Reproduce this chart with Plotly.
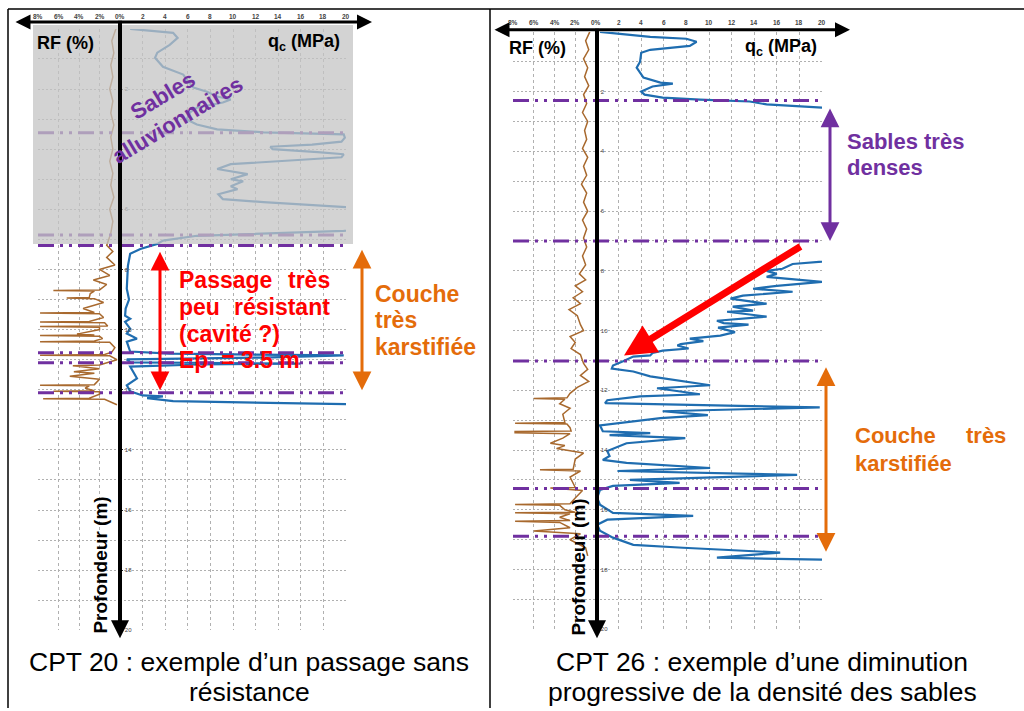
import plotly.graph_objects as go

W, H = 1024, 711
def px(x): return x / W
def py(y): return 1 - y / H

# ---------------- DATA ----------------
depth_ticks = [2, 4, 6, 8, 10, 12, 14, 16, 18, 20]
rf_ticks = [8, 6, 4, 2, 0]
rf_ticktext = ["8%", "6%", "4%", "2%", "0%"]
qc_ticks = [2, 4, 6, 8, 10, 12, 14, 16, 18, 20]

# CPT 20 : (depth m, qc MPa)
cpt20_qc = [(0.0,0.9),(0.13,4.7),(0.3,5.1),(0.53,4.4),(0.79,3.3),(0.96,3.1),(1.26,3.8),(1.52,5.6),
            (1.69,5.9),(1.95,6.5),(2.09,7.7),(2.25,8.6),(2.35,9.8),(2.45,9.1),(2.62,6.8),(2.78,6.2),
            (3.01,5.9),(3.18,6.8),(3.34,8.6),(3.44,12.7),(3.51,19.8),(3.62,19.9),(3.75,19.6),(3.85,17.0),
            (3.92,13.3),(4.0,13.5),(4.1,17.5),(4.17,19.8),(4.27,19.6),(4.35,16.0),(4.5,9.8),(4.66,8.6),
            (4.83,11.3),(5.0,9.8),(5.07,10.9),(5.23,9.8),(5.33,10.4),(5.5,8.7),(5.66,9.1),(5.76,12.7),
            (5.9,19.5),(6.0,23),(6.6,23),(6.72,19.8),(6.88,6.8),(7.04,3.8),(7.15,3.3),(7.32,1.8),
            (7.48,0.9),(7.88,0.7),(8.64,0.6),(9.0,0.8),(9.3,0.5),(9.54,0.45),(9.64,0.9),(9.74,0.45),
            (9.97,0.9),(10.13,0.6),(10.3,1.5),(10.4,0.6),(10.73,0.9),(10.8,4.4),(10.86,19.8),(10.93,12.7),
            (10.99,0.6),(11.09,0.9),(11.13,16.0),(11.16,7.0),(11.23,0.9),(11.62,1.5),(11.85,0.6),
            (12.05,0.9),(12.19,2.0),(12.22,3.8),(12.28,2.4),(12.38,4.7),(12.48,20.0)]

# CPT 20 : (depth m, RF %)
cpt20_rf = [(0.0,0.4),(0.4,0.8),(0.8,0.6),(1.2,0.9),(1.6,0.7),(2.0,1.0),(2.4,0.7),(2.8,0.9),
            (3.2,0.6),(3.6,0.9),(4.0,0.7),(4.4,1.0),(4.8,0.7),(5.2,0.9),(5.6,0.6),(6.0,1.0),
            (6.4,0.7),(6.8,0.9),(7.0,1.1),(7.2,1.3),(7.4,0.7),(7.6,1.3),(7.85,0.5),(8.0,2.0),
            (8.2,1.0),(8.35,2.6),(8.5,1.3),(8.68,2.0),(8.7,6.5),(8.72,2.5),(8.8,2.9),(8.93,3.0),
            (8.95,5.2),(8.97,2.5),(9.1,1.6),(9.3,3.6),(9.43,2.5),(9.45,7.8),(9.47,2.0),(9.6,1.6),
            (9.73,3.0),(9.75,7.8),(9.77,1.5),(9.88,1.2),(9.9,7.8),(9.92,2.0),(10.0,2.0),(10.15,4.2),
            (10.18,2.5),(10.2,7.8),(10.22,2.0),(10.3,1.7),(10.38,2.5),(10.4,7.8),(10.42,1.0),
            (10.6,0.5),(10.75,0.8),(10.83,1.5),(10.85,7.8),(10.87,1.0),(11.0,0.3),(11.18,2.0),
            (11.2,4.6),(11.3,2.0),(11.4,4.5),(11.45,2.5),(11.55,4.9),(11.65,2.0),(11.83,2.5),
            (11.85,7.8),(11.87,3.0),(11.95,3.4),(12.03,2.5),(12.05,6.5),(12.07,2.0),(12.15,2.0),
            (12.28,3.0),(12.3,7.5),(12.32,1.5),(12.4,1.0),(12.5,0.3)]

# CPT 26 : (depth m, qc MPa)
cpt26_qc = [(0.0,0.35),(0.17,4.8),(0.23,8.0),(0.33,8.9),(0.47,8.3),(0.6,4.8),(0.7,4.0),(1.0,3.9),
            (1.2,3.6),(1.53,4.2),(1.7,5.7),(1.73,6.8),(1.83,5.0),(2.0,4.0),(2.1,4.3),(2.2,5.9),
            (2.27,9.2),(2.33,13.6),(2.43,15.1),(2.53,20.0),(2.6,23),(7.6,23),(7.7,20.0),(7.77,17.4),
            (7.93,16.5),(8.0,15.1),(8.1,16.0),(8.2,15.1),(8.37,20.0),(8.5,16.0),(8.6,13.9),(8.7,17.4),
            (8.83,13.0),(8.93,11.9),(9.1,15.1),(9.2,12.1),(9.33,13.9),(9.37,11.6),(9.53,15.1),
            (9.67,10.7),(9.75,11.3),(9.8,13.5),(9.9,10.8),(10.05,12.3),(10.17,11.0),(10.27,8.3),
            (10.35,9.5),(10.45,7.5),(10.5,7.2),(10.6,8.2),(10.67,5.9),(10.75,5.0),(10.83,4.8),
            (10.87,3.3),(11.03,2.4),(11.17,1.5),(11.27,1.4),(11.37,3.3),(11.53,4.8),(11.83,10.1),
            (11.93,5.4),(12.13,9.2),(12.2,3.9),(12.33,1.0),(12.43,0.8),(12.57,19.8),(12.7,5.9),
            (12.83,9.9),(12.93,5.7),(13.17,0.35),(13.37,0.6),(13.43,4.8),(13.5,1.2),(13.6,7.9),
            (13.77,2.7),(13.87,2.1),(14.03,1.0),(14.2,1.2),(14.33,0.6),(14.43,2.7),(14.6,10.1),
            (14.7,1.9),(14.83,17.8),(15.0,3.0),(15.1,7.4),(15.2,1.5),(15.33,0.35),(15.6,0.1),
            (15.83,0.35),(16.1,1.5),(16.2,8.6),(16.33,1.0),(16.5,0.1),(16.7,0.35),(16.93,1.5),
            (17.17,3.3),(17.27,7.7),(17.43,16.3),(17.6,10.7),(17.67,20.0)]

# CPT 26 : (depth m, RF %)
cpt26_rf = [(0.0,0.6),(0.3,1.0),(0.6,0.7),(0.9,1.2),(1.2,0.8),(1.5,1.1),(1.8,0.7),(2.1,1.2),
            (2.4,0.9),(2.7,1.3),(3.0,0.8),(3.3,1.1),(3.6,0.9),(3.9,1.3),(4.2,0.8),(4.5,1.2),
            (4.8,0.9),(5.1,1.4),(5.4,0.9),(5.7,1.2),(6.0,0.8),(6.3,1.3),(6.6,0.9),(6.9,1.2),
            (7.2,0.9),(7.5,1.3),(7.8,1.0),(8.1,1.6),(8.3,1.0),(8.5,2.0),(8.7,1.3),(8.9,2.2),
            (9.1,1.5),(9.3,2.6),(9.5,1.8),(9.8,1.5),(10.0,1.2),(10.2,2.5),(10.4,2.0),(10.6,2.4),
            (10.8,1.5),(11.1,1.2),(11.3,0.8),(11.5,1.5),(11.7,0.7),(11.9,1.8),(12.1,2.5),
            (12.25,2.8),(12.27,6.0),(12.3,3.0),(12.45,3.5),(12.6,2.5),(12.8,3.2),(13.08,3.0),
            (13.1,7.8),(13.13,2.8),(13.25,2.5),(13.36,2.4),(13.38,7.8),(13.42,7.8),(13.45,2.5),
            (13.6,3.2),(13.77,4.4),(13.85,3.0),(13.95,3.8),(14.1,1.2),(14.3,2.0),(14.64,2.2),
            (14.66,5.4),(14.7,1.5),(14.9,2.5),(15.25,2.0),(15.27,4.4),(15.35,1.3),(15.6,2.0),
            (15.8,2.5),(15.82,7.8),(15.85,3.5),(16.0,3.0),(16.08,2.0),(16.1,7.8),(16.13,2.5),
            (16.25,3.5),(16.36,2.5),(16.38,7.8),(16.42,3.5),(16.6,2.5),(16.71,6.0),(16.8,1.5),
            (17.0,2.5),(17.27,1.0),(17.54,0.8)]

# layer boundaries (depth, m)
cpt20_layers = [3.45, 6.85, 7.2, 10.77, 11.1, 12.1]
cpt26_layers = [2.3, 7.0, 11.02, 15.29, 16.88]

# ---------------- STYLE ----------------
BLUE = "#1f6db0"
BROWN = "#a8692e"
PURPLE = "#7030a0"
RED = "#ff0000"
ORANGE = "#e46c0a"
GRID = "#b0b0b0"
FONT = "Liberation Sans, Arial, sans-serif"

fig = go.Figure()
def split(p):
    return [a for a, b in p], [b for a, b in p]

d, v = split(cpt20_rf)
fig.add_trace(go.Scatter(x=v, y=d, mode="lines", line=dict(color=BROWN, width=1.5), xaxis="x", yaxis="y"))
d, v = split(cpt20_qc)
fig.add_trace(go.Scatter(x=v, y=d, mode="lines", line=dict(color=BLUE, width=2.2), xaxis="x2", yaxis="y"))
d, v = split(cpt26_rf)
fig.add_trace(go.Scatter(x=v, y=d, mode="lines", line=dict(color=BROWN, width=1.5), xaxis="x3", yaxis="y2"))
d, v = split(cpt26_qc)
fig.add_trace(go.Scatter(x=v, y=d, mode="lines", line=dict(color=BLUE, width=2.2), xaxis="x4", yaxis="y2"))

def xax(dom, rng, vals, anchor):
    return dict(domain=dom, range=rng, anchor=anchor, tickvals=vals, showticklabels=False, ticks="",
                showgrid=True, gridcolor=GRID, griddash="3px,3px", gridwidth=1,
                zeroline=False, showline=False, fixedrange=True)
def yax(dom, anchor):
    return dict(domain=dom, range=[20, 0], anchor=anchor, side="left", ticklabelposition="inside",
                ticklabeloverflow="allow",
                tickvals=depth_ticks, tickfont=dict(size=6, color="#444", family=FONT),
                ticks="inside", ticklen=3, tickcolor="#222",
                showgrid=True, gridcolor=GRID, griddash="2px,2px", gridwidth=1,
                minor=dict(tickvals=[1, 3, 5, 7, 9, 11, 13, 15, 17, 19], showgrid=True,
                           gridcolor=GRID, griddash="2px,2px", gridwidth=1),
                zeroline=False, showline=False, fixedrange=True)

fig.update_layout(
    width=W, height=H, margin=dict(l=0, r=0, t=0, b=0),
    paper_bgcolor="white", plot_bgcolor="white", showlegend=False, hovermode=False,
    xaxis=xax([px(38), px(120)], [8, 0], rf_ticks, "y"),
    xaxis2=xax([px(120), px(346)], [0, 20], qc_ticks, "y"),
    xaxis3=xax([px(513), px(596)], [8, 0], rf_ticks, "y2"),
    xaxis4=xax([px(596), px(822)], [0, 20], qc_ticks, "y2"),
    yaxis=yax([py(633), py(29)], "x2"),
    yaxis2=yax([py(632), py(32)], "x4"),
)

shapes = []
dash = "16px,6px,3px,6px,3px,6px"
for dep in cpt20_layers:
    shapes.append(dict(type="line", xref="paper", yref="y", x0=px(38), x1=px(346), y0=dep, y1=dep,
                       line=dict(color=PURPLE, width=3, dash=dash), layer="above"))
for dep in cpt26_layers:
    shapes.append(dict(type="line", xref="paper", yref="y2", x0=px(513), x1=px(822), y0=dep, y1=dep,
                       line=dict(color=PURPLE, width=3, dash=dash), layer="above"))
# grey overlay of alluvial sands
shapes.append(dict(type="rect", xref="paper", yref="paper", x0=px(33), x1=px(353), y0=py(245), y1=py(25),
                   fillcolor="rgba(196,196,196,0.75)", line=dict(width=0), layer="above"))
# table borders
for (x0, y0, x1, y1) in [(8, 9, 1024, 9), (8, 9, 8, 711), (490, 9, 490, 711)]:
    shapes.append(dict(type="line", xref="paper", yref="paper", x0=px(x0), x1=px(x1), y0=py(y0), y1=py(y1),
                       line=dict(color="black", width=1.5)))
fig.update_layout(shapes=shapes)

ann = []
# top tick labels placed through the axes' own scales
tickfont = dict(size=6.5, color="#444", family=FONT)
for xr, vals, texts, ypix in [("x", rf_ticks, rf_ticktext, 17), ("x2", qc_ticks, [str(t) for t in qc_ticks], 17),
                              ("x3", rf_ticks, rf_ticktext, 23), ("x4", qc_ticks, [str(t) for t in qc_ticks], 23)]:
    for val, t in zip(vals, texts):
        ann.append(dict(xref=xr, yref="paper", x=val, y=py(ypix), text="<b>%s</b>" % t, showarrow=False,
                        xanchor="center", yanchor="middle", font=tickfont))

def arrow(tail, tip, color, width, size, double=False):
    a = dict(xref="paper", yref="paper", x=px(tip[0]), y=py(tip[1]), ax=tail[0] - tip[0], ay=tail[1] - tip[1],
             text="", showarrow=True, arrowhead=2, arrowsize=size, arrowwidth=width, arrowcolor=color)
    if double:
        a.update(arrowside="end+start", startarrowhead=2, startarrowsize=size)
    ann.append(a)

arrow((14, 22), (372, 22), "black", 3, 1.0, True)
arrow((493, 30), (850, 30), "black", 3, 1.0, True)
arrow((120, 22), (120, 641), "black", 4, 0.9)
arrow((597, 30), (597, 641), "black", 4, 0.9)
arrow((160, 252), (160, 392), RED, 3, 1.25, True)
arrow((362, 250), (362, 392), ORANGE, 3, 1.25, True)
arrow((830, 108), (830, 242), PURPLE, 3, 1.25, True)
arrow((826, 368), (826, 554), ORANGE, 3, 1.25, True)
arrow((802, 247), (624, 357), RED, 7, 0.9)

def text(x, y, s, size, color="black", xa="left", bold=True, angle=0, family=FONT, align="left"):
    ann.append(dict(xref="paper", yref="paper", x=px(x), y=py(y), text=("<b>%s</b>" % s) if bold else s,
                    showarrow=False, xanchor=xa, yanchor="middle", textangle=angle, align=align,
                    font=dict(size=size, color=color, family=family)))

text(35, 43, "RF (%)", 18)
text(342, 43, "q<sub>c</sub> (MPa)", 18, xa="right")
text(507, 48, "RF (%)", 18)
text(819, 48, "q<sub>c</sub> (MPa)", 18, xa="right")
text(170, 108, "Sables<br>alluvionnaires", 22, PURPLE, xa="center", angle=-31, align="center")

text(177, 281, "Passage", 23, RED); text(332, 281, "très", 23, RED, xa="right")
text(177, 308, "peu", 23, RED); text(332, 308, "résistant", 23, RED, xa="right")
text(177, 335, "(cavité ?)", 23, RED)
text(177, 362, "Ep. = 3.5 m", 23, RED)

text(373, 295, "Couche", 23, ORANGE)
text(373, 321, "très", 23, ORANGE)
text(373, 348, "karstifiée", 23, ORANGE)

text(845, 142, "Sables très", 22, PURPLE)
text(845, 168, "denses", 22, PURPLE)

text(853, 437, "Couche", 22, ORANGE); text(1008, 437, "très", 22, ORANGE, xa="right")
text(853, 465, "karstifiée", 22, ORANGE)

ann.append(dict(xref="paper", yref="paper", x=px(101), y=py(568), text="<b>Profondeur (m)</b>", showarrow=False,
                textangle=-90, xanchor="center", yanchor="middle", font=dict(size=19, color="black", family=FONT)))
ann.append(dict(xref="paper", yref="paper", x=px(579), y=py(570), text="<b>Profondeur (m)</b>", showarrow=False,
                textangle=-90, xanchor="center", yanchor="middle", font=dict(size=19, color="black", family=FONT)))

text(249, 665, "CPT 20 : exemple d’un passage sans", 26.5, xa="center", bold=False)
text(249, 695, "résistance", 26.5, xa="center", bold=False)
text(762, 665, "CPT 26 : exemple d’une diminution", 26.5, xa="center", bold=False)
text(762, 695, "progressive de la densité des sables", 26.5, xa="center", bold=False)

fig.update_layout(annotations=ann)
fig.write_html("out.html", config={"displayModeBar": False},
               post_script="document.body.style.margin='0px';document.body.style.padding='0px';")
